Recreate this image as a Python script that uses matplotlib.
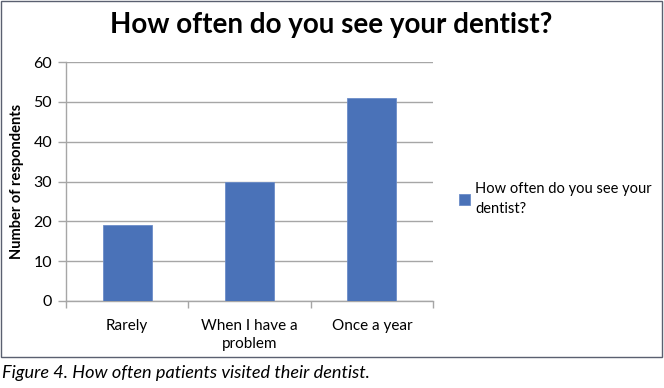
import matplotlib
matplotlib.use("Agg")
import matplotlib.pyplot as plt
from matplotlib.patches import Rectangle

# data
categories = ["Rarely", "When I have a\nproblem", "Once a year"]
respondents = [19, 30, 51]
series_name = "How often do you see your\ndentist?"

BAR_COLOR = "#4a72b8"
GRID_COLOR = "#a6a6a6"
plt.rcParams["font.family"] = ["Lato", "DejaVu Sans"]

W, H = 664, 388
fig = plt.figure(figsize=(W / 100, H / 100), dpi=100)

# chart frame
fig.patches.append(Rectangle((1 / W, 1 - 357 / H), 661 / W, 356 / H,
                             transform=fig.transFigure, fill=False,
                             edgecolor="#5a6070", lw=1.0))

ax = fig.add_axes([66 / W, 1 - 301 / H, 367 / W, 239 / H])
x = list(range(len(categories)))
bars = ax.bar(x, respondents, width=0.4, color=BAR_COLOR,
              edgecolor="#6b8cc8", lw=0.6, label=series_name, zorder=3)

ax.set_xlim(-0.5, len(categories) - 0.5)
ax.set_ylim(0, 60)
ax.set_yticks(range(0, 61, 10))
ax.yaxis.grid(True, color=GRID_COLOR, lw=1.0, zorder=0)
ax.set_xticks(x)
ax.set_xticklabels(categories, fontsize=11, linespacing=1.35)
ax.tick_params(axis="x", length=0, pad=13)
# tick marks between categories
ax.set_xticks([-0.5, 0.5, 1.5, 2.5], minor=True)
ax.tick_params(axis="x", which="minor", length=5, color=GRID_COLOR, width=1)
ax.tick_params(axis="y", length=6, color=GRID_COLOR, width=1, labelsize=11.5, pad=4)

for side in ["top", "right"]:
    ax.spines[side].set_visible(False)
for side in ["left", "bottom"]:
    ax.spines[side].set_color(GRID_COLOR)
    ax.spines[side].set_linewidth(1.0)

ax.set_ylabel("Number of respondents", fontsize=10.5, fontweight="bold", labelpad=7)

fig.text(331 / W, 1 - 25 / H, "How often do you see your dentist?",
         ha="center", va="center", fontsize=20, fontweight="bold")

leg = ax.legend(loc="center left", bbox_to_anchor=(459 / W, 1 - 199 / H),
                bbox_transform=fig.transFigure, frameon=False, fontsize=10.5,
                borderpad=0, borderaxespad=0,
                handlelength=0.75, handleheight=0.75, handletextpad=0.35)
for t in leg.get_texts():
    t.set_linespacing(1.5)

fig.text(2 / W, 1 - 373 / H, "Figure 4. How often patients visited their dentist.",
         ha="left", va="center", fontsize=13.1, style="italic")

fig.savefig("out.png", dpi=100)
